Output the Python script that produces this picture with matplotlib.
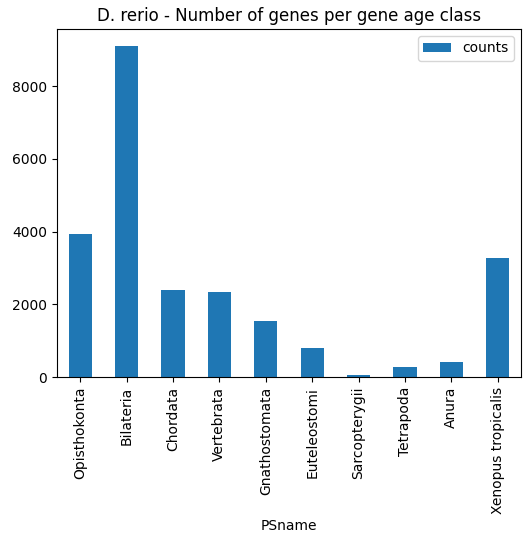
import matplotlib
matplotlib.use("Agg")
import matplotlib.pyplot as plt
import numpy as np

categories = ["Opisthokonta", "Bilateria", "Chordata", "Vertebrata", "Gnathostomata",
              "Euteleostomi", "Sarcopterygii", "Tetrapoda", "Anura", "Xenopus tropicalis"]
counts = [3926, 9115, 2405, 2350, 1548, 802, 55, 276, 415, 3263]

fig = plt.figure(figsize=(5.30, 5.43), dpi=100)
ax = fig.add_axes([0.1075, 0.3057, 0.983 - 0.1075, 0.9466 - 0.3057])
x = np.arange(len(categories))
ax.bar(x, counts, width=0.5, color="#1f77b4", label="counts")
ax.set_xticks(x)
ax.set_xticklabels(categories, rotation=90)
ax.set_xlim(-0.5, len(categories) - 0.5)
ax.set_xlabel("PSname")
ax.set_title("D. rerio - Number of genes per gene age class")
ax.legend(loc="upper right")
fig.savefig("out.png", dpi=100)
